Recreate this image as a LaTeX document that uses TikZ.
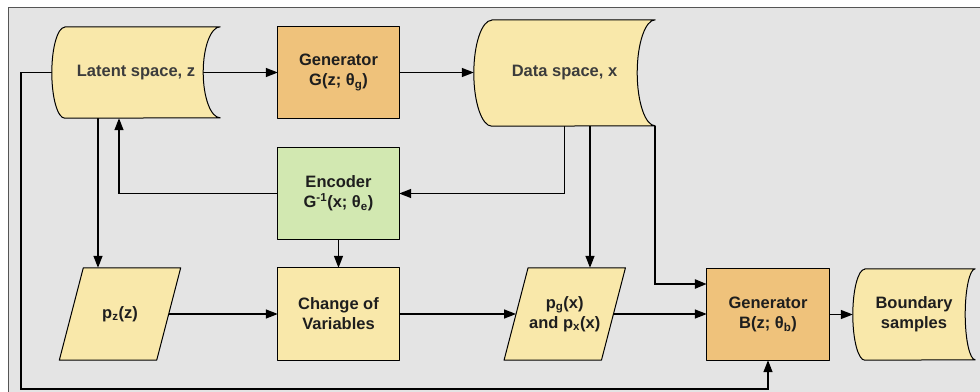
\documentclass[tikz,border=0pt]{standalone}
\usepackage{fontspec}
\setmainfont{Liberation Sans}
\usetikzlibrary{arrows.meta,calc}
\definecolor{bgc}{HTML}{E4E4E4}
\definecolor{bordc}{HTML}{555555}
\definecolor{yel}{HTML}{F9E8AA}
\definecolor{ora}{HTML}{EFC27B}
\definecolor{grn}{HTML}{D2E8B1}
\definecolor{txtd}{HTML}{1E1E1E}
\definecolor{txtg}{HTML}{3C3C3C}
\tikzset{
  box/.style={rectangle, inner sep=0pt, align=center, text=txtd,
    font=\fontsize{16.5}{20}\selectfont\bfseries},
  shp/.style={draw=black, line width=1pt, line join=round},
  conn/.style={draw=black, line width=1.4pt, -{Triangle[length=12pt,width=9pt]}},
}
\begin{document}
\begin{tikzpicture}[x=1pt,y=-1pt]
\clip (0,0) rectangle (980,391);
\fill[white] (0,0) rectangle (980,391);
\draw[fill=bgc, draw=bordc, line width=1pt] (8.5,7.5) rectangle (1000,420);

% nodes
\node[box, minimum width=168pt, minimum height=91pt, text=txtg] (lat) at (136,72.5) {};
\node[box, minimum width=121pt, minimum height=91pt] (genG) at (338.5,72.5) {};
\node[box, minimum width=181pt, minimum height=106pt, text=txtg] (data) at (564.5,73) {};
\node[box, minimum width=121pt, minimum height=91pt] (enc) at (338.5,193.5) {};
\node[box, minimum width=97pt, minimum height=92pt] (pz) at (120,314) {};
\node[box, minimum width=121pt, minimum height=92pt] (cov) at (338.5,314) {};
\node[box, minimum width=97pt, minimum height=92pt] (pg) at (564.75,314) {};
\node[box, minimum width=122pt, minimum height=91pt] (genB) at (768,314.5) {};
\node[box, minimum width=122pt, minimum height=91pt] (bnd) at (914,314.5) {};
\coordinate (fbL) at (21,389);

% connectors (behind shapes)
\draw[conn] ([xshift=-17pt]lat.east) -- (genG.west);
\draw[conn] (genG.east) -- (genG.east -| data.west);
\draw[conn] (data.south) |- (enc.east);
\draw[conn] (enc.west) -| ([xshift=-17pt]lat.south);
\draw[conn] ([xshift=-38pt]lat.south) -- ([xshift=-38pt]lat.south |- pz.north);
\draw[conn] (enc.south) -- (cov.north);
\draw[conn] ([xshift=25.5pt]data.south) -- ([xshift=25.5pt]data.south |- pg.north);
\draw[conn] (pz.east) -- (cov.west);
\draw[conn] (cov.east) -- (pg.west);
\draw[conn] (pg.east) -- (pg.east -| genB.west);
\draw[conn, line width=2.5pt] (data.south east) |- ([yshift=30.5pt]genB.west);
\draw[conn] (genB.east) -- (bnd.west);
\draw[conn] (lat.west) -| (fbL) -| (genB.south);

% shapes
\draw[shp, fill=yel] ([xshift=13pt]lat.north west) -- (lat.north east)
  arc[start angle=90, end angle=270, x radius=17pt, y radius=45.5pt]
  -- ([xshift=13pt]lat.south west)
  arc[start angle=270, end angle=90, x radius=13pt, y radius=45.5pt] -- cycle;
\draw[shp, fill=yel] ([xshift=18pt]data.north west) -- (data.north east)
  arc[start angle=90, end angle=270, x radius=18pt, y radius=53pt]
  -- ([xshift=18pt]data.south west)
  arc[start angle=270, end angle=90, x radius=18pt, y radius=53pt] -- cycle;
\draw[shp, fill=yel] ([xshift=12pt]bnd.north west) -- (bnd.north east)
  arc[start angle=90, end angle=270, x radius=10pt, y radius=45.5pt]
  -- ([xshift=12pt]bnd.south west)
  arc[start angle=270, end angle=90, x radius=12pt, y radius=45.5pt] -- cycle;
\draw[shp, fill=ora] (genG.north west) rectangle (genG.south east);
\draw[shp, fill=grn] (enc.north west) rectangle (enc.south east);
\draw[shp, fill=yel] (cov.north west) rectangle (cov.south east);
\draw[shp, fill=ora] (genB.north west) rectangle (genB.south east);
\draw[shp, fill=yel] ([xshift=12pt]pz.north west) -- ([xshift=12pt]pz.north east)
  -- ([xshift=-12pt]pz.south east) -- ([xshift=-12pt]pz.south west) -- cycle;
\draw[shp, fill=yel] ([xshift=12pt]pg.north west) -- ([xshift=12pt]pg.north east)
  -- ([xshift=-12pt]pg.south east) -- ([xshift=-12pt]pg.south west) -- cycle;

% texts on top
\node[box, text=txtg] (latT) at (lat.center) {Latent space, z};
\node[box] (genGT) at (genG.center) {Generator\\G(z; θ\textsubscript{g})};
\node[box, text=txtg] (dataT) at (data.center) {Data space, x};
\node[box] (encT) at (enc.center) {Encoder\\G\textsuperscript{-1}(x; θ\textsubscript{e})};
\node[box] (pzT) at (pz.center) {p\textsubscript{z}(z)};
\node[box] (covT) at (cov.center) {Change of\\Variables};
\node[box] (pgT) at (pg.center) {p\textsubscript{g}(x)\\and p\textsubscript{x}(x)};
\node[box] (genBT) at (genB.center) {Generator\\B(z; θ\textsubscript{b})};
\node[box] (bndT) at (bnd.center) {Boundary\\samples};
\end{tikzpicture}
\end{document}
